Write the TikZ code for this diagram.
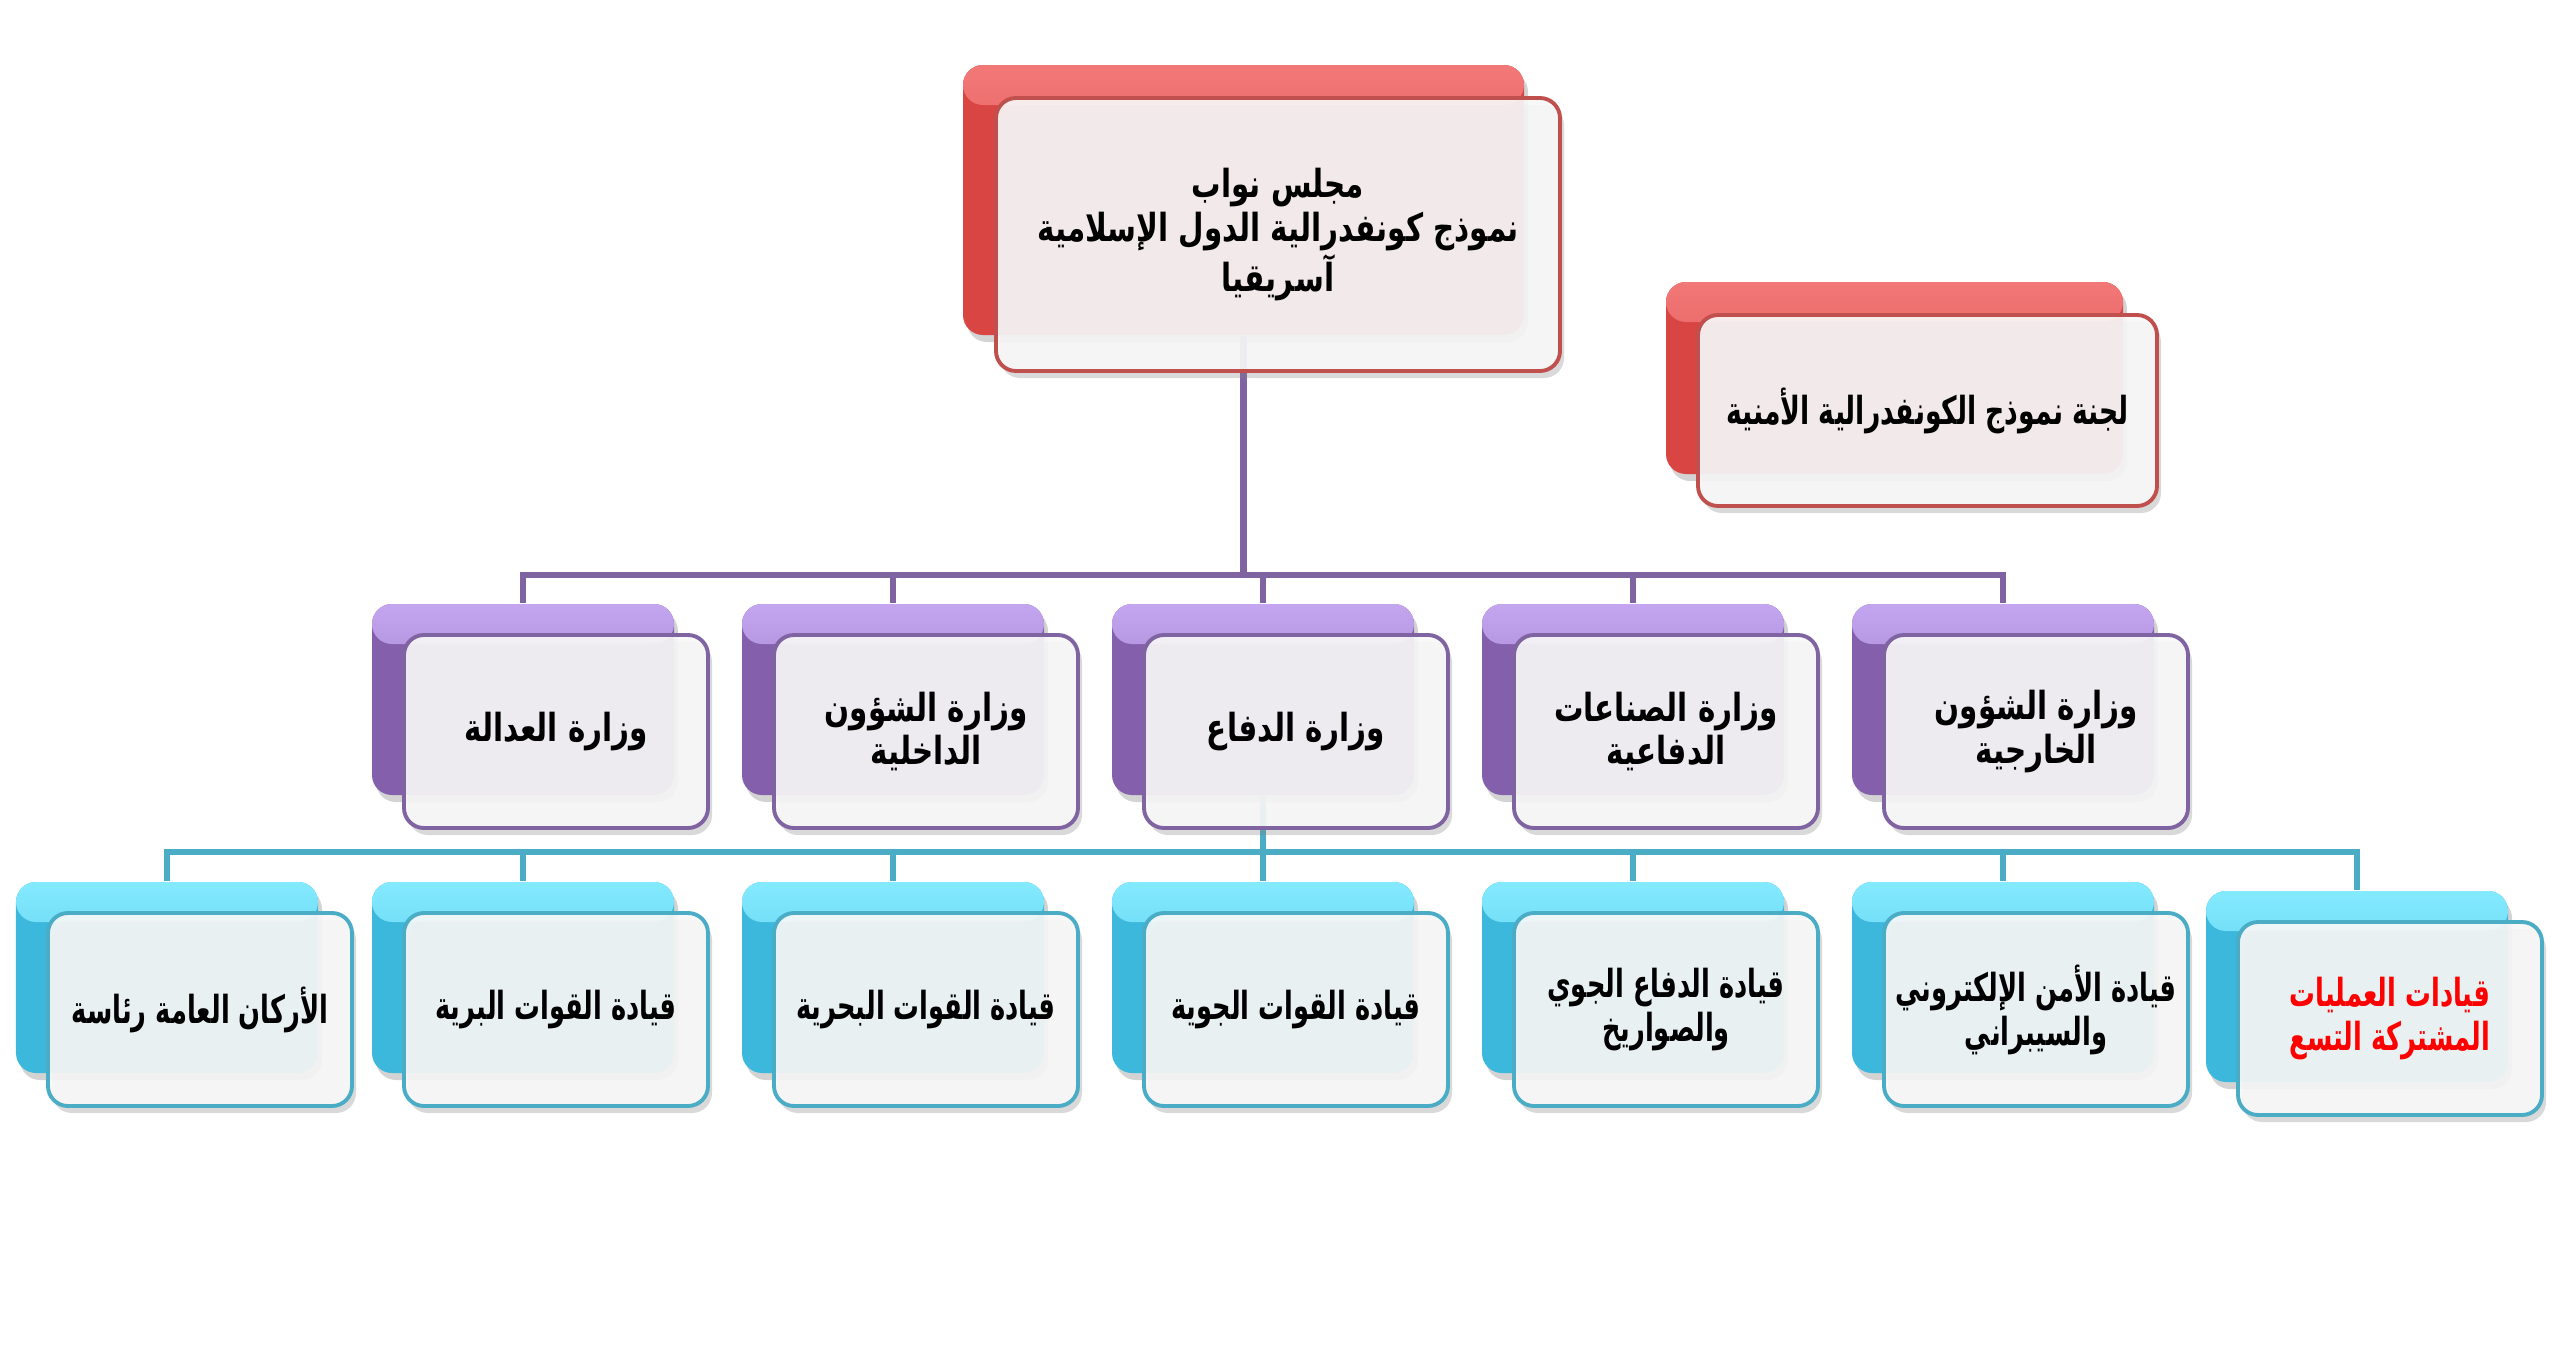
\documentclass[tikz,border=0pt]{standalone}
\usepackage{fontspec}
\usepackage{graphicx}
\usetikzlibrary{shadows,calc}
\TeXXeTstate=1
\newfontfamily\arabicfont[Script=Arabic]{DejaVu Sans}
\definecolor{redtop}{HTML}{F27878}
\definecolor{redmid}{HTML}{D84542}
\definecolor{redline}{HTML}{C0504D}
\definecolor{purtop}{HTML}{C4A6F0}
\definecolor{purmid}{HTML}{8460AC}
\definecolor{purline}{HTML}{8064A2}
\definecolor{teatop}{HTML}{84EAFF}
\definecolor{teamid}{HTML}{3CB8DC}
\definecolor{tealine}{HTML}{4BACC6}
\definecolor{frontfill}{HTML}{F7F7F7}
\pgfdeclarelayer{bg}
\pgfsetlayers{bg,main}
\def\arsc{0.76}
\newcommand{\ar}[1]{\scalebox{\arsc}[1]{\beginR #1\endR}}
\tikzset{
  backbox/.style={rounded corners=0.2cm, minimum width=3.02cm, minimum height=1.91cm,
    drop shadow={shadow xshift=0.04cm, shadow yshift=-0.07cm, opacity=0.35}},
  colback/.style 2 args={backbox, fill=#1,
    path picture={
      \shade[top color=#2, bottom color=#1] (path picture bounding box.north west)
        rectangle ([yshift=-0.4cm]path picture bounding box.north east);
    }},
  frontbox/.style={rounded corners=0.2cm, minimum width=3.04cm, minimum height=1.93cm,
    fill=frontfill, fill opacity=0.92, text opacity=1, line width=1.1pt,
    drop shadow={shadow xshift=0.04cm, shadow yshift=-0.07cm, opacity=0.3},
    font=\arabicfont\bfseries\fontsize{11}{12.5}\selectfont, align=center, inner sep=1pt},
  redback/.style={colback={redmid}{redtop}},
  purback/.style={colback={purmid}{purtop}},
  teaback/.style={colback={teamid}{teatop}},
  redfront/.style={frontbox, draw=redline},
  purfront/.style={frontbox, draw=purline},
  teafront/.style={frontbox, draw=tealine, execute at begin node={\def\arsc{0.665}}},
  pline/.style={draw=purline, line width=1.8pt},
  tline/.style={draw=tealine, line width=1.8pt},
}
\begin{document}
\begin{tikzpicture}
\useasboundingbox (0,0) rectangle (25.6,-13.51);
% top
\node[redback, minimum width=5.61cm, minimum height=2.70cm] (tback) at (12.435,-2.0) {};
\node[redfront, minimum width=5.64cm, minimum height=2.73cm] (tfront) at (12.78,-2.345)
  {\ar{مجلس نواب}\\ \ar{نموذج كونفدرالية الدول الإسلامية}\\ \ar{آسريقيا}};
% right
\node[redback, minimum width=4.57cm, minimum height=1.92cm] (rback) at (18.945,-3.78) {};
\node[redfront, minimum width=4.59cm, minimum height=1.91cm, execute at begin node={\def\arsc{0.69}}] (rfront) at (19.275,-4.105)
  {\ar{لجنة نموذج الكونفدرالية الأمنية}};
% row 2
\node[purback] (m1b) at (5.23,-6.995) {};
\node[purfront] (m1f) at (5.56,-7.315) {\ar{وزارة العدالة}};
\node[purback] (m2b) at (8.93,-6.995) {};
\node[purfront] (m2f) at (9.26,-7.315) {\ar{وزارة الشؤون}\\ \ar{الداخلية}};
\node[purback] (m3b) at (12.63,-6.995) {};
\node[purfront] (m3f) at (12.96,-7.315) {\ar{وزارة الدفاع}};
\node[purback] (m4b) at (16.33,-6.995) {};
\node[purfront] (m4f) at (16.66,-7.315) {\ar{وزارة الصناعات}\\ \ar{الدفاعية}};
\node[purback] (m5b) at (20.03,-6.995) {};
\node[purfront] (m5f) at (20.36,-7.315) {\ar{وزارة الشؤون}\\ \ar{الخارجية}};
% row 3
\node[teaback] (c1b) at (1.67,-9.775) {};
\node[teafront] (c1f) at (2.00,-10.095) {\ar{الأركان العامة رئاسة}};
\node[teaback] (c2b) at (5.23,-9.775) {};
\node[teafront] (c2f) at (5.56,-10.095) {\ar{قيادة القوات البرية}};
\node[teaback] (c3b) at (8.93,-9.775) {};
\node[teafront] (c3f) at (9.26,-10.095) {\ar{قيادة القوات البحرية}};
\node[teaback] (c4b) at (12.63,-9.775) {};
\node[teafront] (c4f) at (12.96,-10.095) {\ar{قيادة القوات الجوية}};
\node[teaback] (c5b) at (16.33,-9.775) {};
\node[teafront] (c5f) at (16.66,-10.095) {\ar{قيادة الدفاع الجوي}\\ \ar{والصواريخ}};
\node[teaback] (c6b) at (20.03,-9.775) {};
\node[teafront] (c6f) at (20.36,-10.095) {\ar{قيادة الأمن الإلكتروني}\\ \ar{والسيبراني}};
\node[teaback] (c7b) at (23.57,-9.865) {};
\node[teafront, text=red] (c7f) at (23.90,-10.185) {\ar{قيادات العمليات}\\ \ar{المشتركة التسع}};
% connectors
\coordinate (pj) at (12.44,-5.75);
\coordinate (tj) at (12.63,-8.52);
\begin{pgfonlayer}{bg}
\foreach \n in {m1b,m2b,m3b,m4b,m5b}
  \draw[pline] (tback.south) |- (\n.north |- pj) -- (\n.north);
\foreach \n in {c1b,c2b,c3b,c4b,c5b,c6b,c7b}
  \draw[tline] (m3b.south) |- (\n.north |- tj) -- (\n.north);
\end{pgfonlayer}
\end{tikzpicture}
\end{document}
